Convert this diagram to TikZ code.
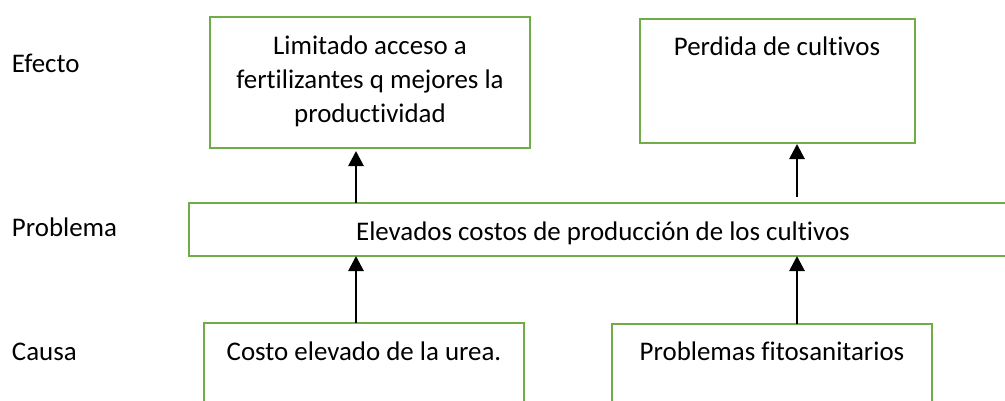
\documentclass[tikz,border=0pt]{standalone}
\usepackage{fontspec}
\setmainfont{Carlito}[Ligatures=NoCommon]
\usetikzlibrary{arrows.meta}
\definecolor{boxgreen}{HTML}{70AD47}
\tikzset{
  greenbox/.style={draw=boxgreen, line width=2.8pt, rectangle, inner sep=0pt, outer sep=0pt, fill=white},
  txt/.style={inner sep=0pt, outer sep=0pt, font=\fontsize{26.9pt}{34pt}\selectfont, align=center},
  arr/.style={draw=black, line width=2.8pt, -{Triangle[width=15pt,length=15pt]}}
}
\begin{document}
\begin{tikzpicture}[x=1pt,y=-1pt]
\path[use as bounding box] (0,0) rectangle (1005,400);
\clip (0,0) rectangle (1005,400);
% boxes
\node[greenbox, anchor=north west, minimum width=320pt, minimum height=131pt] (e1) at (210,17) {};
\node[greenbox, anchor=north west, minimum width=275pt, minimum height=124pt] (e2) at (640,19) {};
\node[greenbox, anchor=north west, minimum width=828pt, minimum height=53pt] (p) at (189,203) {};
\node[greenbox, anchor=north west, minimum width=320pt, minimum height=120pt] (c1) at (204,323) {};
\node[greenbox, anchor=north west, minimum width=320pt, minimum height=120pt] (c2) at (612,324) {};
% texts
\node[txt, anchor=base] (t1) at (370,122) {Limitado acceso a\\fertilizantes q mejores la\\productividad};
\node[txt, anchor=base] (t2) at (777,55) {Perdida de cultivos};
\node[txt, anchor=base] (t3) at (603,240) {Elevados costos de producción de los cultivos};
\node[txt, anchor=base] (t4) at (364,360) {Costo elevado de la urea.};
\node[txt, anchor=base] (t5) at (772,360) {Problemas fitosanitarios};
% row labels
\node[txt, anchor=base west] (l1) at (12,72) {Efecto};
\node[txt, anchor=base west] (l2) at (12,236) {Problema};
\node[txt, anchor=base west] (l3) at (12,360) {Causa};
% arrows
\coordinate (a1) at (356,0);
\coordinate (a2) at (797,0);
\draw[arr] (c1.north -| a1) -- (p.south -| a1);
\draw[arr] (c2.north -| a2) -- (p.south -| a2);
\draw[arr, shorten >=3pt] (p.north -| a1) -- (e1.south -| a1);
\draw[arr, shorten <=6pt, shorten >=1pt] (p.north -| a2) -- (e2.south -| a2);
\end{tikzpicture}
\end{document}
